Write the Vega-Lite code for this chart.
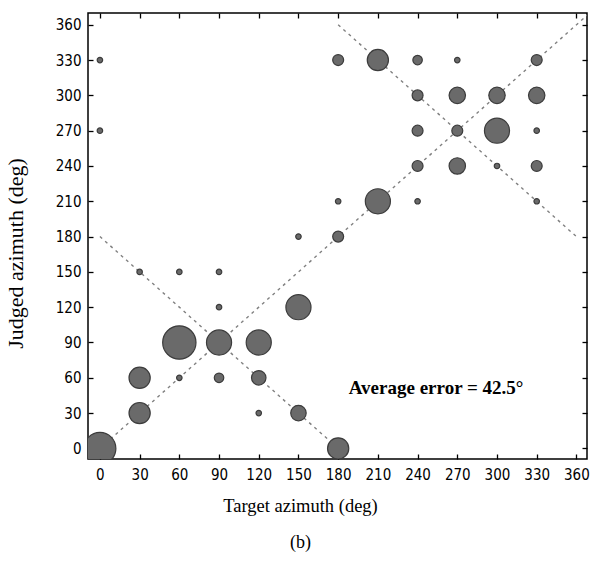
{
  "$schema": "https://vega.github.io/schema/vega-lite/v6.json",
  "width": 499,
  "height": 446,
  "autosize": "none",
  "padding": {"left": 88, "top": 13, "right": 6, "bottom": 105},
  "background": "white",
  "config": {
    "view": {"stroke": "black", "strokeWidth": 1.5},
    "axis": {
      "grid": false,
      "domain": false,
      "tickSize": -5,
      "tickColor": "black",
      "tickWidth": 1.3,
      "labelFont": "DejaVu Sans Condensed",
      "labelFontSize": 15,
      "labelColor": "black",
      "titleFont": "Liberation Serif",
      "titleFontSize": 18,
      "titleFontWeight": "normal",
      "titleColor": "black"
    }
  },
  "title": {
    "text": "(b)",
    "orient": "bottom",
    "font": "Liberation Serif",
    "fontSize": 18,
    "fontWeight": "normal",
    "color": "black",
    "offset": 19,
    "dx": -37
  },
  "datasets": {
    "pts": [
      {"target": 0, "judged": 0, "n": 34},
      {"target": 0, "judged": 270, "n": 1},
      {"target": 0, "judged": 330, "n": 1},
      {"target": 30, "judged": 30, "n": 15},
      {"target": 30, "judged": 60, "n": 15},
      {"target": 30, "judged": 150, "n": 1},
      {"target": 60, "judged": 90, "n": 37},
      {"target": 60, "judged": 60, "n": 1},
      {"target": 60, "judged": 150, "n": 1},
      {"target": 90, "judged": 90, "n": 21},
      {"target": 90, "judged": 60, "n": 3},
      {"target": 90, "judged": 120, "n": 1},
      {"target": 90, "judged": 150, "n": 1},
      {"target": 120, "judged": 90, "n": 21},
      {"target": 120, "judged": 60, "n": 7},
      {"target": 120, "judged": 30, "n": 1},
      {"target": 150, "judged": 120, "n": 21},
      {"target": 150, "judged": 30, "n": 8},
      {"target": 150, "judged": 180, "n": 1},
      {"target": 180, "judged": 0, "n": 15},
      {"target": 180, "judged": 180, "n": 4},
      {"target": 180, "judged": 210, "n": 1},
      {"target": 180, "judged": 330, "n": 4},
      {"target": 210, "judged": 330, "n": 15},
      {"target": 210, "judged": 210, "n": 21},
      {"target": 240, "judged": 330, "n": 3},
      {"target": 240, "judged": 300, "n": 4},
      {"target": 240, "judged": 270, "n": 4},
      {"target": 240, "judged": 240, "n": 4},
      {"target": 240, "judged": 210, "n": 1},
      {"target": 270, "judged": 330, "n": 1},
      {"target": 270, "judged": 300, "n": 9},
      {"target": 270, "judged": 270, "n": 4},
      {"target": 270, "judged": 240, "n": 9},
      {"target": 300, "judged": 300, "n": 9},
      {"target": 300, "judged": 270, "n": 21},
      {"target": 300, "judged": 240, "n": 1},
      {"target": 330, "judged": 330, "n": 4},
      {"target": 330, "judged": 300, "n": 9},
      {"target": 330, "judged": 270, "n": 1},
      {"target": 330, "judged": 240, "n": 4},
      {"target": 330, "judged": 210, "n": 1}
    ],
    "lines": [
      {"seg": "diag", "target": 0, "judged": 0},
      {"seg": "diag", "target": 372, "judged": 372},
      {"seg": "anti1", "target": 0, "judged": 180},
      {"seg": "anti1", "target": 180, "judged": 0},
      {"seg": "anti2", "target": 180, "judged": 360},
      {"seg": "anti2", "target": 360, "judged": 180}
    ],
    "note": [
      {"target": 254, "judged": 51, "label": "Average error = 42.5°"}
    ]
  },
  "resolve": {"axis": {"x": "independent", "y": "independent"}},
  "layer": [
    {
      "data": {"name": "lines"},
      "mark": {"type": "line", "clip": true, "color": "#808080", "strokeWidth": 1.4, "strokeDash": [3, 4]},
      "encoding": {
        "detail": {"field": "seg"},
        "x": {
          "field": "target", "type": "quantitative",
          "scale": {"domain": [-9, 368], "nice": false, "zero": false},
          "axis": {
            "orient": "bottom",
            "values": [0, 30, 60, 90, 120, 150, 180, 210, 240, 270, 300, 330, 360],
            "title": "Target azimuth (deg)",
            "labelPadding": 13,
            "titlePadding": 14,
            "titleFontSize": 18.5,
            "titleX": 212
          }
        },
        "y": {
          "field": "judged", "type": "quantitative",
          "scale": {"domain": [-9, 370], "nice": false, "zero": false},
          "axis": {
            "orient": "left",
            "values": [0, 30, 60, 90, 120, 150, 180, 210, 240, 270, 300, 330, 360],
            "title": "Judged azimuth (deg)",
            "titleFontSize": 22,
            "titleY": 240,
            "labelPadding": 12,
            "titlePadding": 28
          }
        }
      }
    },
    {
      "data": {"name": "pts"},
      "mark": {"type": "point", "shape": "circle", "filled": true, "clip": true, "color": "#6a6a6a", "stroke": "#3c3c3c", "strokeWidth": 1.2, "opacity": 1},
      "encoding": {
        "x": {
          "field": "target", "type": "quantitative",
          "scale": {"domain": [-9, 368], "nice": false, "zero": false},
          "axis": {"orient": "top", "values": [0, 30, 60, 90, 120, 150, 180, 210, 240, 270, 300, 330, 360], "labels": false, "title": null}
        },
        "y": {
          "field": "judged", "type": "quantitative",
          "scale": {"domain": [-9, 370], "nice": false, "zero": false},
          "axis": {"orient": "right", "values": [0, 30, 60, 90, 120, 150, 180, 210, 240, 270, 300, 330, 360], "labels": false, "title": null}
        },
        "size": {"field": "n", "type": "quantitative", "scale": {"type": "linear", "domain": [0, 40], "range": [0, 1200]}, "legend": null}
      }
    },
    {
      "data": {"name": "note"},
      "mark": {"type": "text", "font": "Liberation Serif", "fontSize": 19, "fontWeight": "bold", "color": "black", "align": "center", "baseline": "middle"},
      "encoding": {
        "x": {"field": "target", "type": "quantitative", "scale": {"domain": [-9, 368], "nice": false, "zero": false}, "axis": null},
        "y": {"field": "judged", "type": "quantitative", "scale": {"domain": [-9, 370], "nice": false, "zero": false}, "axis": null},
        "text": {"field": "label"}
      }
    }
  ]
}
